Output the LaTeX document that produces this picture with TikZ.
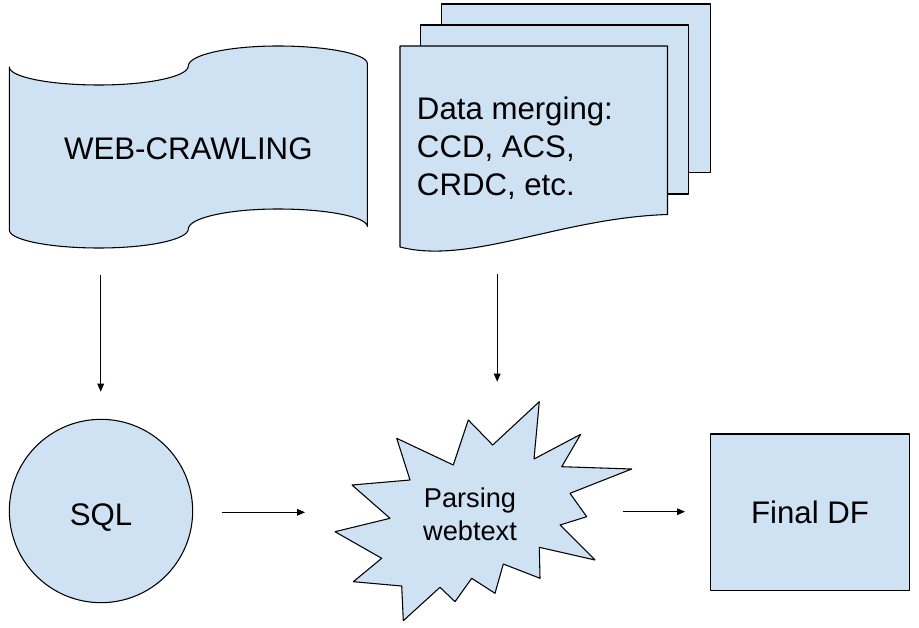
\documentclass[tikz,border=0pt]{standalone}
\usepackage{fontspec}
\setmainfont{Liberation Sans}
\usetikzlibrary{arrows.meta}
\definecolor{lightblue}{HTML}{CFE2F3}

\begin{document}
\begin{tikzpicture}[x=0.75pt,y=0.75pt,yscale=-1,xscale=1,
  shapefill/.style={draw=black, line width=0.8pt, fill=lightblue, line join=round},
  bigtext/.style={inner sep=0pt, font=\fontsize{23.4}{28.7}\selectfont},
  smalltext/.style={inner sep=0pt, align=center, font=\fontsize{20.4}{25}\selectfont},
  flow/.style={draw=black, line width=0.8pt, -{Triangle[length=6pt,width=5pt]}}]
\useasboundingbox (0,0) rectangle (919,627);

% Shape: Punched Tape
\draw[shapefill] (9.3,67) .. controls (9.3,77) and (49.5,85) .. (99,85) .. controls (148.5,85) and (188.3,76.5) .. (188.3,66) .. controls (188.3,55) and (228,46) .. (277.8,46) .. controls (327.2,46) and (367.3,54) .. (367.3,63.5) -- (367.3,226.5) .. controls (367.3,217) and (327.2,209) .. (277.8,209) .. controls (228,209) and (188.3,218) .. (188.3,229) .. controls (188.3,239.5) and (148.5,248) .. (99,248) .. controls (49.5,248) and (9.3,240) .. (9.3,230) -- cycle;
% Shape: Multidocument
\draw[shapefill] (441.7,4) rectangle (710.7,172.3);
\draw[shapefill] (420.7,25) rectangle (688.3,194);
\draw[shapefill] (400,46) -- (667.5,46) -- (667.5,214.5) .. controls (560,218) and (470,265) .. (400,247) -- cycle;
% Shape: Circle
\node[shapefill, circle, minimum size=137.5pt, inner sep=0pt] (sql) at (101,511) {};
% Shape: Explosion
\draw[shapefill] (396.7,438.3) -- (453.3,465) -- (468.3,420) -- (492.7,445) -- (539.3,401.7) -- (534,459) -- (580.7,434.3) -- (561.7,466.7) -- (631.7,469) -- (570,493.3) -- (586.7,516.7) -- (560,525) -- (595,560) -- (539.3,547.3) -- (540,578.3) -- (503.3,564) -- (495,593.3) -- (471.7,578.3) -- (455,601.7) -- (440,587.3) -- (403.3,620.7) -- (401.7,586) -- (353.3,581.7) -- (381.7,558.3) -- (335,531.7) -- (390,518.3) -- (352,485) -- (410,480) -- cycle;
% Shape: Rectangle
\node[shapefill, bigtext, minimum width=149pt, minimum height=117.5pt] (final) at (810,512.3) {Final DF};

% Text Node
\node[bigtext] (crawltext) at (188.3,148.3) {WEB-CRAWLING};
% Text Node
\node[bigtext, align=left, anchor=west] (mergetext) at (416.7,148) {Data merging:\\CCD, ACS,\\CRDC, etc.};
% Text Node
\node[bigtext] (sqltext) at (101,517.5) {SQL};
% Text Node
\node[smalltext] (parsetext) at (470,514) {Parsing\\webtext};

\coordinate (crawlout) at (100.7,275);
\coordinate (sqlin) at (100.7,391.7);
\coordinate (mergeout) at (497.2,274);
\coordinate (parsein) at (497.2,381.7);
\coordinate (sqlout) at (222,512.3);
\coordinate (parseleft) at (305,512.3);
\coordinate (parseout) at (622.7,511.7);
\coordinate (finalin) at (685,511.7);

% Connection
\draw[flow] (crawlout) -- (sqlin);
% Connection
\draw[flow] (mergeout) -- (parsein);
% Connection
\draw[flow] (sqlout) -- (parseleft);
% Connection
\draw[flow] (parseout) -- (finalin);

\end{tikzpicture}
\end{document}
